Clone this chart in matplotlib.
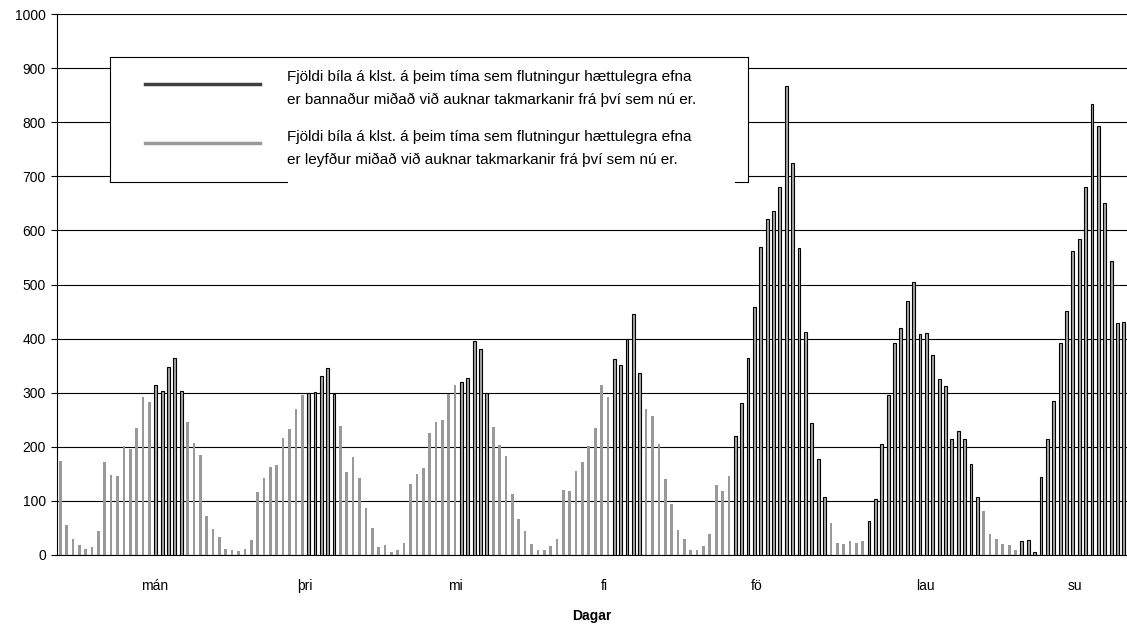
import numpy as np
import matplotlib.pyplot as plt
from matplotlib.lines import Line2D
from matplotlib.patches import Rectangle

plt.rcParams['font.family'] = ['Liberation Sans', 'DejaVu Sans']

### Gögn ###

# fjöldi bíla á klst., mánudagur kl. 0 til sunnudags kl. 23 (168 klst.)
umferd = [
    173, 55, 29, 18, 12, 14, 44, 172, 148, 146, 201, 196,
    235, 292, 283, 314, 303, 347, 364, 303, 246, 207, 185, 72,
    48, 33, 11, 10, 7, 12, 27, 116, 142, 162, 166, 216,
    233, 270, 296, 299, 301, 330, 345, 297, 238, 153, 181, 142,
    86, 49, 14, 18, 5, 9, 23, 131, 149, 160, 225, 246,
    249, 298, 314, 319, 327, 396, 381, 299, 236, 203, 183, 112,
    66, 44, 20, 10, 10, 16, 29, 120, 118, 155, 172, 201,
    235, 314, 292, 362, 352, 399, 446, 336, 270, 257, 205, 140,
    94, 46, 29, 10, 9, 16, 38, 129, 118, 146, 220, 281,
    365, 458, 570, 621, 635, 681, 866, 724, 567, 413, 244, 178,
    107, 60, 22, 20, 25, 22, 25, 62, 104, 206, 296, 391,
    419, 470, 505, 409, 410, 369, 326, 312, 215, 230, 215, 169,
    108, 81, 38, 30, 21, 19, 10, 26, 27, 6, 145, 215,
    284, 391, 451, 561, 584, 680, 834, 793, 651, 544, 428, 430,
]

# klukkustundir (fyrsta, síðasta) þar sem flutningur er bannaður
bann_bil = [(15, 19), (39, 43), (63, 67), (87, 91), (106, 120), (127, 144), (151, 167)]

dagar = ['mán', 'þri', 'mi', 'fi', 'fö', 'lau', 'su']
dagar_stada = [14.9, 38.4, 62.0, 85.5, 109.4, 135.8, 159.3]

skyringar = [
    'Fjöldi bíla á klst. á þeim tíma sem flutningur hættulegra efna\n'
    'er bannaður miðað við auknar takmarkanir frá því sem nú er.',
    'Fjöldi bíla á klst. á þeim tíma sem flutningur hættulegra efna\n'
    'er leyfður miðað við auknar takmarkanir frá því sem nú er.',
]

### Teikning ###

umferd = np.array(umferd)
klst = np.arange(len(umferd))
bannad = np.zeros(len(umferd), dtype=bool)
for a, b in bann_bil:
    bannad[a:b + 1] = True

DOKKT = '#404040'
LJOST = '#999999'

fig = plt.figure(figsize=(11.27, 6.28), dpi=100)
ax = fig.add_axes([57 / 1127, 1 - 555 / 628, 1 - 57 / 1127, (555 - 14) / 628])

ax.bar(klst[~bannad], umferd[~bannad], width=0.42, color=LJOST, linewidth=0, zorder=2)
ax.bar(klst[bannad], umferd[bannad], width=0.45, color='#a6a6a6',
       edgecolor='black', linewidth=0.8, zorder=3)

ax.set_xlim(-0.5, len(umferd) - 0.5)
ax.set_ylim(0, 1000)
ax.set_yticks(range(0, 1001, 100))
ax.yaxis.grid(True, color='black', linewidth=0.8, zorder=0)
ax.set_axisbelow(True)
for s in ['top', 'right']:
    ax.spines[s].set_visible(False)
ax.spines['left'].set_linewidth(0.8)
ax.spines['bottom'].set_linewidth(0.8)
ax.tick_params(axis='y', length=4, width=0.8, pad=4, labelsize=10)
ax.set_xticks(dagar_stada)
ax.set_xticklabels(dagar)
ax.tick_params(axis='x', length=0, pad=17, labelsize=10)
ax.set_xlabel('Dagar', fontsize=10, fontweight='bold', labelpad=12)

# skýringarkassi, neðri brúnin hverfur bak við textann
def fx(x):
    return x / 1127

def fy(y):
    return 1 - y / 628

fig.patches.append(Rectangle((fx(110), fy(182)), fx(748) - fx(110), fy(57) - fy(182),
                             transform=fig.transFigure, facecolor='white',
                             edgecolor='none', zorder=5))
for xs, ys in [([110, 748], [57, 57]), ([110, 110], [57, 182]), ([748, 748], [57, 182]),
               ([110, 287], [182, 182]), ([735, 748], [182, 182])]:
    fig.lines.append(Line2D([fx(x) for x in xs], [fy(y) for y in ys],
                            transform=fig.transFigure, color='black', linewidth=0.8, zorder=6))

for texti, litur, y_lina, y_texti in [(skyringar[0], DOKKT, 84, 88.5), (skyringar[1], LJOST, 143, 148.5)]:
    fig.lines.append(Line2D([fx(145), fx(260)], [fy(y_lina), fy(y_lina)],
                            transform=fig.transFigure, color=litur, linewidth=2.5, zorder=6))
    fig.text(fx(287), fy(y_texti), texti, fontsize=11, va='center', ha='left',
             linespacing=1.7, zorder=7)

fig.savefig('out.png', dpi=100)
